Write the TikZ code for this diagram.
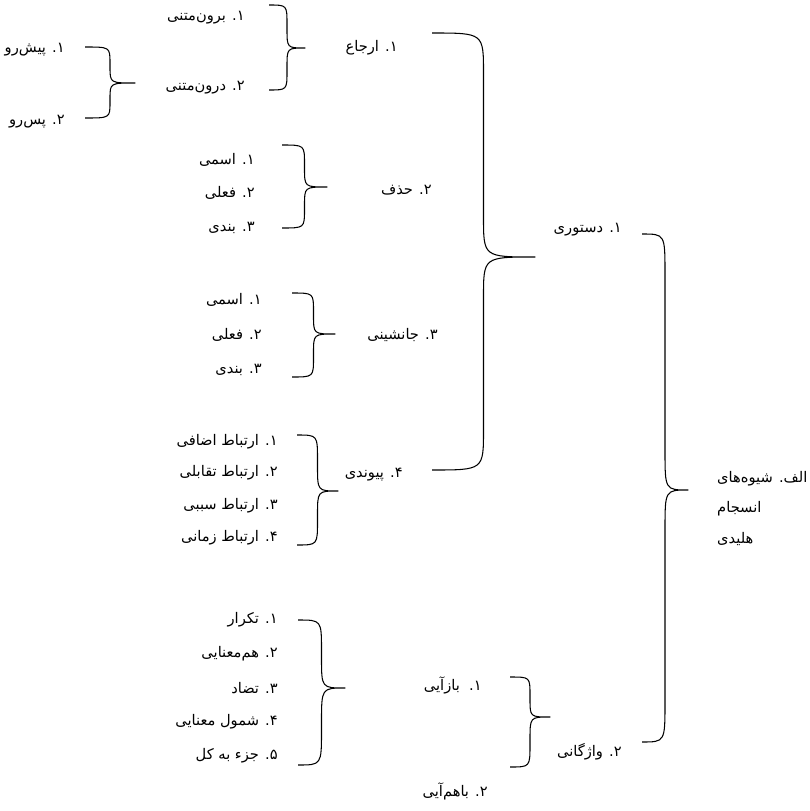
\documentclass[tikz,border=0pt]{standalone}
\usepackage{fontspec}
\usepackage{tikz}
\usetikzlibrary{calc}
\TeXXeTstate=1
\newfontfamily\fafont[Script=Arabic]{DejaVu Sans}
\newcommand{\fa}[1]{\beginR #1\endR}
% curly brace: top arm end, tip, bottom arm end
\newcommand{\grpbrace}[3]{%
  \draw[brc] let \p1=(#1), \p2=(#2), \p3=(#3),
    \n1={0.5*(\x1+\x2)},
    \n2={min(34pt,0.45*(\y1-\y2))},
    \n3={min(34pt,0.45*(\y2-\y3))} in
    (\p1) .. controls (\n1,\y1) .. (\n1,\y1-\n2)
    -- (\n1,\y2+\n2) .. controls (\n1,\y2) .. (\p2)
    .. controls (\n1,\y2) .. (\n1,\y2-\n3)
    -- (\n1,\y3+\n3) .. controls (\n1,\y3) .. (\p3);}

\begin{document}
\begin{tikzpicture}[
    x=0.03cm, y=-0.03cm,
    lbl/.style={inner sep=0pt, anchor=east, font=\fafont\fontsize{12.5}{14}\selectfont},
    brc/.style={line width=0.9pt, line join=round}
]
\useasboundingbox (0,0) rectangle (809,811);

% level 4
\node[lbl] (pishro) at (65,50) {\fa{۱. پیش^^^^200cرو}};
\node[lbl] (pasro) at (65,122) {\fa{۲. پس^^^^200cرو}};

% level 3
\node[lbl] (biroon) at (245,18) {\fa{۱. برون^^^^200cمتنی}};
\node[lbl] (daroon) at (245,88) {\fa{۲. درون^^^^200cمتنی}};

\node[lbl] (esmA) at (255,160) {\fa{۱. اسمی}};
\node[lbl] (felA) at (255,193) {\fa{۲. فعلی}};
\node[lbl] (bandA) at (255,228) {\fa{۳. بندی}};

\node[lbl] (esmB) at (262,300) {\fa{۱. اسمی}};
\node[lbl] (felB) at (262,335) {\fa{۲. فعلی}};
\node[lbl] (bandB) at (262,370) {\fa{۳. بندی}};

\node[lbl] (ezafi) at (278,442) {\fa{۱. ارتباط اضافی}};
\node[lbl] (taqabol) at (278,473) {\fa{۲. ارتباط تقابلی}};
\node[lbl] (sababi) at (278,506) {\fa{۳. ارتباط سببی}};
\node[lbl] (zamani) at (278,538) {\fa{۴. ارتباط زمانی}};

\node[lbl] (tekrar) at (278,620) {\fa{۱. تکرار}};
\node[lbl] (hammana) at (278,654) {\fa{۲. هم^^^^200cمعنایی}};
\node[lbl] (tazad) at (278,688) {\fa{۳. تضاد}};
\node[lbl] (shomul) at (278,722) {\fa{۴. شمول معنایی}};
\node[lbl] (joz) at (278,756) {\fa{۵. جزء به کل}};

% level 2
\node[lbl] (erja) at (398,48) {\fa{۱. ارجاع}};
\node[lbl] (hazf) at (432,190) {\fa{۲. حذف}};
\node[lbl] (janeshini) at (438,335) {\fa{۳. جانشینی}};
\node[lbl] (peyvandi) at (403,475) {\fa{۴. پیوندی}};

\node[lbl] (bazayi) at (482,685) {\fa{۱.\ \ بازآیی}};
\node[lbl] (bahamayi) at (488,791) {\fa{۲. باهم^^^^200cآیی}};

% level 1
\node[lbl] (dastoori) at (622,230) {\fa{۱. دستوری}};
\node[lbl] (vazhegani) at (622,752) {\fa{۲. واژگانی}};

% root
\node[lbl, anchor=north west, align=left, font=\fafont\fontsize{12.5}{26}\selectfont]
  (alef) at (717,471) {\fa{الف. شیوه^^^^200cهای}\\ \fa{انسجام}\\ \fa{هلیدی}};

% brace ends
\coordinate (b1t) at (85,47);   \coordinate (b1m) at (135,83);  \coordinate (b1b) at (85,118);
\coordinate (b2t) at (269,5);   \coordinate (b2m) at (305,48);  \coordinate (b2b) at (269,90);
\coordinate (b3t) at (282,145); \coordinate (b3m) at (327,187); \coordinate (b3b) at (282,228);
\coordinate (b4t) at (292,293); \coordinate (b4m) at (335,334); \coordinate (b4b) at (292,377);
\coordinate (b5t) at (297,435); \coordinate (b5m) at (338,491); \coordinate (b5b) at (297,545);
\coordinate (b6t) at (432,33);  \coordinate (b6m) at (535,257); \coordinate (b6b) at (432,470);
\coordinate (b7t) at (298,620); \coordinate (b7m) at (345,688); \coordinate (b7b) at (298,765);
\coordinate (b8t) at (510,677); \coordinate (b8m) at (550,717); \coordinate (b8b) at (510,767);
\coordinate (b9t) at (642,234); \coordinate (b9m) at (688,490); \coordinate (b9b) at (642,742);

\grpbrace{b1t}{b1m}{b1b}
\grpbrace{b2t}{b2m}{b2b}
\grpbrace{b3t}{b3m}{b3b}
\grpbrace{b4t}{b4m}{b4b}
\grpbrace{b5t}{b5m}{b5b}
\grpbrace{b6t}{b6m}{b6b}
\grpbrace{b7t}{b7m}{b7b}
\grpbrace{b8t}{b8m}{b8b}
\grpbrace{b9t}{b9m}{b9b}
\end{tikzpicture}
\end{document}
